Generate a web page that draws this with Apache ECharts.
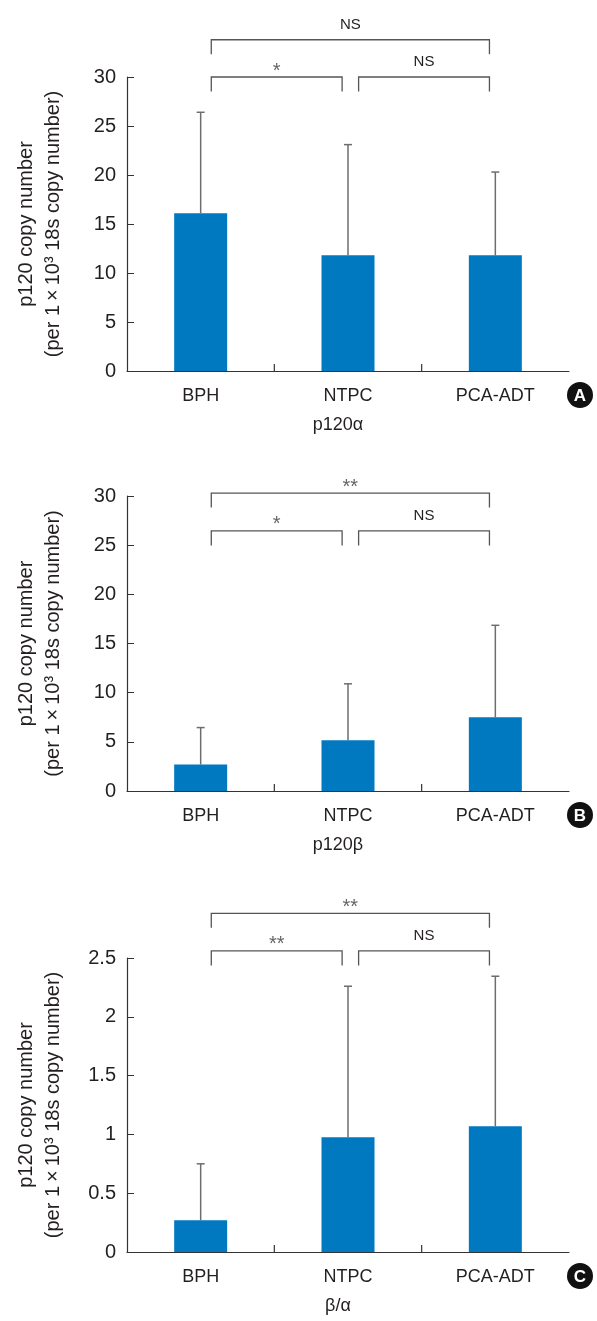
<!DOCTYPE html>
<html>
<head>
<meta charset="utf-8">
<script src="https://cdn.jsdelivr.net/npm/echarts@6/dist/echarts.min.js"></script>
<style>
  html, body { margin: 0; padding: 0; background: #fff; }
  #chart { width: 597px; height: 1321px; }
</style>
</head>
<body>
<div id="chart"></div>
<script>
// groups on the x axis
var categories = ['BPH', 'NTPC', 'PCA-ADT'];

// p120 alpha
var meanA = [16.1, 11.8, 11.8];
var upperA = [26.4, 23.1, 20.3];
// p120 beta
var meanB = [2.7, 5.15, 7.5];
var upperB = [6.45, 10.9, 16.85];
// beta / alpha
var meanC = [0.27, 0.975, 1.07];
var upperC = [0.75, 2.26, 2.345];

// significance brackets: [from, to] category index
var bracketPairs = [[0, 2], [0, 1], [1, 2]];
var marksA = ['NS', '*', 'NS'];
var marksB = ['**', '*', 'NS'];
var marksC = ['**', '**', 'NS'];
// height of each bracket, in axis units
var levelsA = [33.8, 30, 30];
var levelsB = [30.3, 26.45, 26.45];
var levelsC = [2.88, 2.56, 2.56];

var yTitle = 'p120 copy number\n(per 1\u2009\u00d7\u200910\u00b3 18s copy number)';

var panels = [
    { name: 'p120\u03b1', letter: 'A', max: 30, interval: 5, mean: meanA, upper: upperA, marks: marksA, levels: levelsA, top: 77, height: 294 },
    { name: 'p120\u03b2', letter: 'B', max: 30, interval: 5, mean: meanB, upper: upperB, marks: marksB, levels: levelsB, top: 496, height: 295 },
    { name: '\u03b2/\u03b1', letter: 'C', max: 2.5, interval: 0.5, mean: meanC, upper: upperC, marks: marksC, levels: levelsC, top: 958, height: 294 }
];

var axisColor = '#333';
var textColor = '#231f20';
var errColor = '#6e6e6e';
var barColor = '#0079c1';
var fontName = '"Liberation Sans", Arial, sans-serif';

var chart = echarts.init(document.getElementById('chart'));

var grids = [], xAxes = [], yAxes = [], series = [], graphics = [];

panels.forEach(function (p, k) {
    grids.push({ left: 127, right: 28, top: p.top, height: p.height });

    xAxes.push({
        type: 'category',
        gridIndex: k,
        data: categories,
        name: p.name,
        nameLocation: 'middle',
        nameGap: 45,
        nameTextStyle: { fontSize: 18, color: textColor, fontFamily: fontName, padding: [0, 20, 0, 0] },
        axisLine: { lineStyle: { color: axisColor, width: 1.2 } },
        axisTick: { show: false },
        axisLabel: { fontSize: 18, color: textColor, fontFamily: fontName, margin: 16 }
    });

    yAxes.push({
        type: 'value',
        gridIndex: k,
        min: 0,
        max: p.max,
        interval: p.interval,
        name: yTitle,
        nameLocation: 'middle',
        nameRotate: 90,
        nameGap: 60,
        nameTextStyle: { fontSize: 20, lineHeight: 27, color: textColor, fontFamily: fontName },
        axisLine: { show: true, lineStyle: { color: axisColor, width: 1.2 } },
        axisTick: { show: true, inside: true, length: 7, lineStyle: { color: axisColor } },
        axisLabel: { fontSize: 20, color: textColor, fontFamily: fontName, margin: 11 },
        splitLine: { show: false }
    });

    series.push({
        type: 'bar',
        xAxisIndex: k,
        yAxisIndex: k,
        data: p.mean,
        barWidth: 53,
        itemStyle: { color: barColor },
        z: 3
    });

    // error bars (upper only)
    series.push({
        type: 'custom',
        xAxisIndex: k,
        yAxisIndex: k,
        encode: { x: 0, y: [1, 2] },
        data: p.mean.map(function (m, i) { return [i, m, p.upper[i]]; }),
        z: 2,
        renderItem: function (params, api) {
            var base = api.coord([api.value(0), api.value(1)]);
            var top = api.coord([api.value(0), api.value(2)]);
            var st = { stroke: errColor, lineWidth: 1.5 };
            return {
                type: 'group',
                children: [
                    { type: 'line', shape: { x1: base[0], y1: base[1], x2: top[0], y2: top[1] }, style: st },
                    { type: 'line', shape: { x1: top[0] - 4, y1: top[1], x2: top[0] + 4, y2: top[1] }, style: st }
                ]
            };
        }
    });

    // ticks between the groups
    series.push({
        type: 'custom',
        xAxisIndex: k,
        yAxisIndex: k,
        encode: { x: 0, y: 1 },
        data: [[0, 0], [1, 0]],
        z: 4,
        renderItem: function (params, api) {
            var pt = api.coord([api.value(0), 0]);
            var bw = api.size([1, 0])[0];
            var x = pt[0] + bw / 2;
            return { type: 'line', shape: { x1: x, y1: pt[1], x2: x, y2: pt[1] - 7 }, style: { stroke: axisColor, lineWidth: 1.2 } };
        }
    });

    // significance brackets
    series.push({
        type: 'custom',
        xAxisIndex: k,
        yAxisIndex: k,
        encode: { x: [0, 1], y: 2 },
        data: bracketPairs.map(function (b, i) { return [b[0], b[1], p.levels[i]]; }),
        clip: false,
        z: 4,
        renderItem: function (params, api) {
            var from = api.coord([api.value(0), api.value(2)]);
            var to = api.coord([api.value(1), api.value(2)]);
            var bw = api.size([1, 0])[0];
            var x1 = from[0] + bw * 0.072;
            var x2 = to[0] - bw * 0.04;
            var y = from[1];
            var label = p.marks[params.dataIndex];
            var star = label.indexOf('*') >= 0;
            return {
                type: 'group',
                children: [
                    {
                        type: 'polyline',
                        shape: { points: [[x1, y + 14.5], [x1, y], [x2, y], [x2, y + 14.5]] },
                        style: { stroke: '#555', lineWidth: 1.3, fill: null }
                    },
                    {
                        type: 'text',
                        x: (x1 + x2) / 2,
                        y: star ? y - 6 : y - 15,
                        style: {
                            text: label,
                            fill: star ? '#666' : textColor,
                            font: (star ? '20px ' : '15px ') + fontName,
                            align: 'center',
                            verticalAlign: 'middle'
                        }
                    }
                ]
            };
        }
    });

    // panel letter
    var cy = p.top + p.height + 24;
    graphics.push({
        type: 'group',
        x: 580,
        y: cy,
        children: [
            { type: 'circle', shape: { cx: 0, cy: 0, r: 13 }, style: { fill: '#111' } },
            { type: 'text', style: { text: p.letter, x: 0, y: 1, fill: '#fff', font: 'bold 17px ' + fontName, align: 'center', verticalAlign: 'middle' } }
        ]
    });
});

chart.setOption({
    animation: false,
    grid: grids,
    xAxis: xAxes,
    yAxis: yAxes,
    series: series,
    graphic: graphics
});
</script>
</body>
</html>
